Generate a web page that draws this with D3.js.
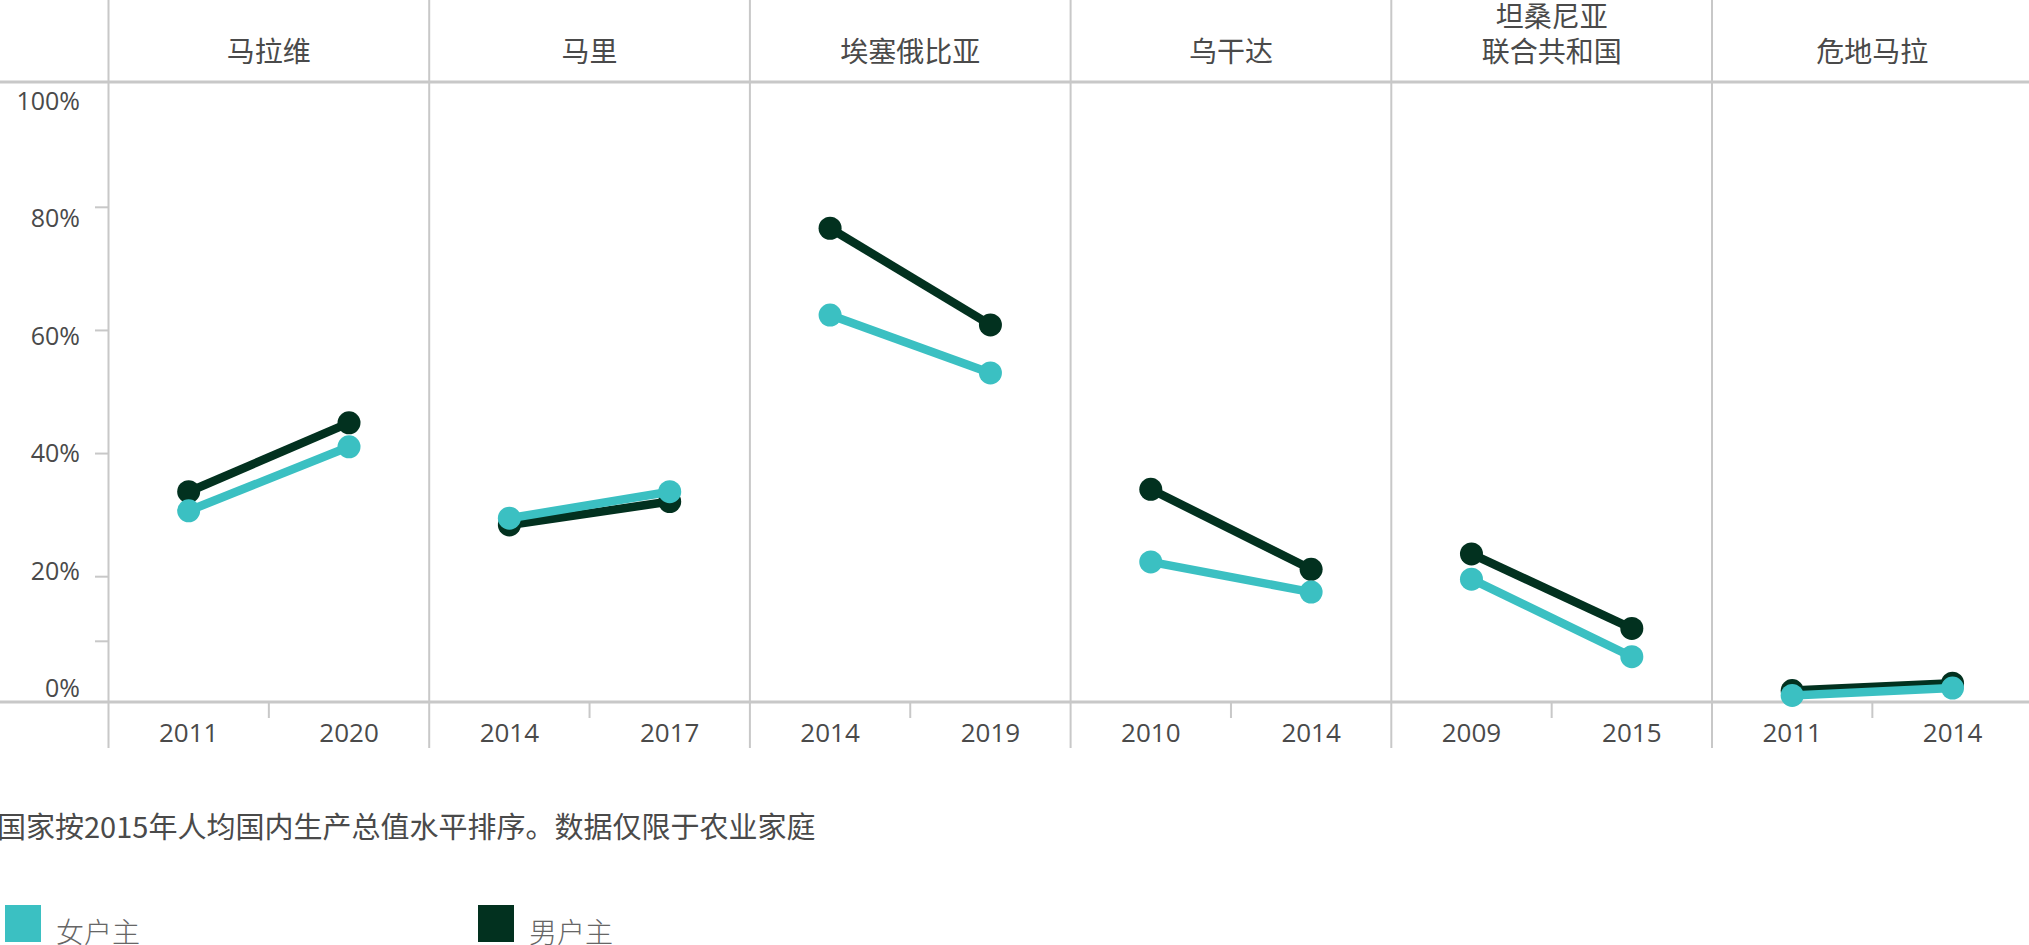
<!DOCTYPE html>
<html>
<head>
<meta charset="utf-8">
<script src="https://cdn.jsdelivr.net/npm/d3@7"></script>
<style>
  html, body { margin: 0; padding: 0; background: #fff; overflow: hidden; }
  svg { display: block; }
</style>
</head>
<body>
<svg id="chart" width="2029" height="945"></svg>
<script>
// ---------- data ----------
const countries = ["马拉维", "马里", "埃塞俄比亚", "乌干达", "坦桑尼亚\n联合共和国", "危地马拉"];
const yearsStart = ["2011", "2014", "2014", "2010", "2009", "2011"];
const yearsEnd   = ["2020", "2017", "2019", "2014", "2015", "2014"];
const womenStart = [0.307, 0.295, 0.625, 0.224, 0.196, 0.007];
const womenEnd   = [0.411, 0.338, 0.531, 0.175, 0.070, 0.019];
const menStart   = [0.338, 0.284, 0.766, 0.342, 0.237, 0.015];
const menEnd     = [0.450, 0.322, 0.609, 0.212, 0.116, 0.027];
const yTickValues  = [0.2, 0.4, 0.6, 0.8];
const yMinorTicks  = [0.095];
const yLabelValues = [0, 0.2, 0.4, 0.6, 0.8, 1.0];
const seriesNames  = ["女户主", "男户主"];
const footnote = "国家按2015年人均国内生产总值水平排序。数据仅限于农业家庭";

// ---------- style ----------
const teal = "#3bc0c2";
const dark = "#02311f";
const grid = "#c8c8c8";
const textCol = "#4a4a4a";
const latin = "'Open Sans', 'Noto Sans', sans-serif";
const cjk = "'Noto Sans CJK SC', 'Noto Sans', sans-serif";

const svg = d3.select("#chart");
const W = 2029, H = 945;
const left = 108.5, panelW = 320.7;
const headerY = 82, axisY = 702;

const x = d3.scaleBand().domain(d3.range(countries.length))
  .range([left, left + panelW * countries.length]).padding(0);
const xi = d3.scalePoint().domain([0, 1]).range([0, x.bandwidth()]).padding(0.5);
const y = d3.scaleLinear().domain([0, 1]).range([699.8, 84.2]);
const yLab = d3.scaleLinear().domain([0, 1]).range([687, 100]);

// ---------- frame lines ----------
svg.append("line").attr("x1", 0).attr("x2", W).attr("y1", headerY).attr("y2", headerY)
  .attr("stroke", grid).attr("stroke-width", 3);
svg.append("line").attr("x1", 0).attr("x2", W).attr("y1", axisY).attr("y2", axisY)
  .attr("stroke", grid).attr("stroke-width", 3);

const seps = d3.range(countries.length).map(i => x(i));
svg.selectAll("line.sep").data(seps).join("line").attr("class", "sep")
  .attr("x1", d => d).attr("x2", d => d).attr("y1", 0).attr("y2", 748)
  .attr("stroke", grid).attr("stroke-width", 2);

// mid ticks on x axis
svg.selectAll("line.mid").data(d3.range(countries.length)).join("line").attr("class", "mid")
  .attr("x1", i => x(i) + x.bandwidth() / 2).attr("x2", i => x(i) + x.bandwidth() / 2)
  .attr("y1", axisY).attr("y2", 718)
  .attr("stroke", grid).attr("stroke-width", 2);

// ---------- y axis ----------
svg.selectAll("line.ytick").data(yTickValues.concat(yMinorTicks)).join("line").attr("class", "ytick")
  .attr("x1", left - 13.5).attr("x2", left).attr("y1", d => y(d)).attr("y2", d => y(d))
  .attr("stroke", grid).attr("stroke-width", 2);

svg.selectAll("text.ylab").data(yLabelValues).join("text").attr("class", "ylab")
  .attr("x", 80).attr("y", d => yLab(d))
  .attr("text-anchor", "end").attr("dominant-baseline", "central")
  .attr("font-family", latin).attr("font-size", 25).attr("fill", textCol)
  .text(d => d3.format(".0%")(d));

// ---------- headers ----------
countries.forEach((c, i) => {
  const lines = c.split("\n");
  const cx = x(i) + x.bandwidth() / 2;
  const t = svg.append("text").attr("text-anchor", "middle")
    .attr("font-family", cjk).attr("font-size", 28).attr("fill", textCol);
  const startY = lines.length === 1 ? 50 : 15;
  lines.forEach((ln, k) => {
    t.append("tspan").attr("x", cx).attr("y", startY + k * 35)
      .attr("dominant-baseline", "central").text(ln);
  });
});

// ---------- year labels ----------
countries.forEach((c, i) => {
  [yearsStart[i], yearsEnd[i]].forEach((yr, k) => {
    svg.append("text").attr("x", x(i) + xi(k)).attr("y", 732)
      .attr("text-anchor", "middle").attr("dominant-baseline", "central")
      .attr("font-family", latin).attr("font-size", 26).attr("fill", textCol)
      .text(yr);
  });
});

// ---------- series ----------
const series = [
  { name: seriesNames[1], color: dark, s: menStart, e: menEnd },
  { name: seriesNames[0], color: teal, s: womenStart, e: womenEnd }
];
series.forEach(sr => {
  const g = svg.append("g");
  countries.forEach((c, i) => {
    const pts = [[x(i) + xi(0), y(sr.s[i])], [x(i) + xi(1), y(sr.e[i])]];
    g.append("path").attr("d", d3.line()(pts))
      .attr("stroke", sr.color).attr("stroke-width", 8.5).attr("fill", "none");
    g.selectAll(null).data(pts).join("circle")
      .attr("cx", d => d[0]).attr("cy", d => d[1]).attr("r", 11.5)
      .attr("fill", sr.color);
  });
});

// ---------- footnote ----------
svg.append("text").attr("x", -3).attr("y", 825).attr("dominant-baseline", "central")
  .attr("font-family", cjk).attr("font-size", 29).attr("fill", textCol)
  .text(footnote);

// ---------- legend ----------
const legend = [
  { name: seriesNames[0], color: teal, x: 5 },
  { name: seriesNames[1], color: dark, x: 478 }
];
legend.forEach(l => {
  svg.append("rect").attr("x", l.x).attr("y", 905).attr("width", 36).attr("height", 37)
    .attr("fill", l.color);
  svg.append("text").attr("x", l.x + 51).attr("y", 931).attr("dominant-baseline", "central")
    .attr("font-family", cjk).attr("font-weight", 300).attr("font-size", 28).attr("fill", "#666")
    .text(l.name);
});
</script>
</body>
</html>
